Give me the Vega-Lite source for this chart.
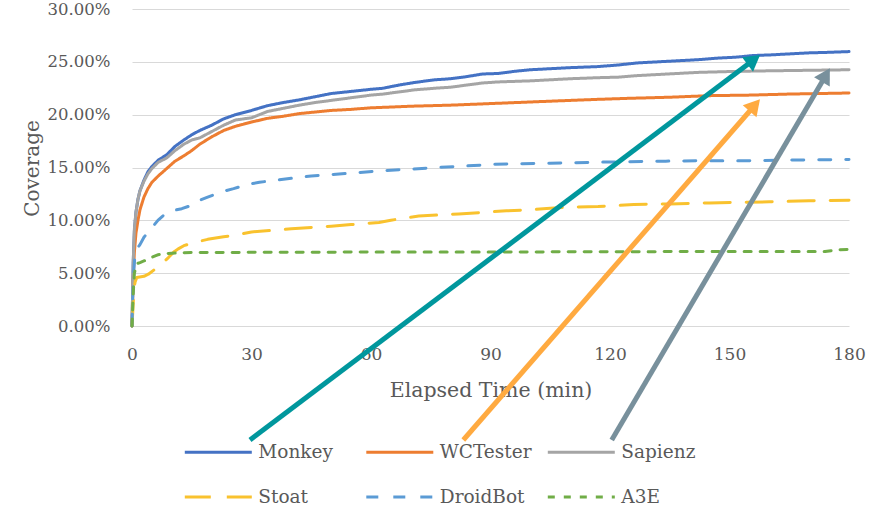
{
  "$schema": "https://vega.github.io/schema/vega-lite/v6.json",
  "width": 717,
  "height": 317,
  "autosize": {"type": "none"},
  "padding": {"left": 132, "top": 9, "right": 28, "bottom": 182},
  "background": "white",
  "datasets": {
    "lines": [
      {"tool":"Monkey","t":0,"cov":0},{"tool":"Monkey","t":0.3,"cov":0.06},{"tool":"Monkey","t":0.6,"cov":0.09},{"tool":"Monkey","t":1,"cov":0.108},{"tool":"Monkey","t":1.5,"cov":0.12},{"tool":"Monkey","t":2,"cov":0.128},{"tool":"Monkey","t":3,"cov":0.138},{"tool":"Monkey","t":4,"cov":0.146},{"tool":"Monkey","t":5,"cov":0.151},{"tool":"Monkey","t":6.6,"cov":0.157},{"tool":"Monkey","t":8.7,"cov":0.162},{"tool":"Monkey","t":10.8,"cov":0.17},{"tool":"Monkey","t":13,"cov":0.176},{"tool":"Monkey","t":15,"cov":0.181},{"tool":"Monkey","t":17,"cov":0.185},{"tool":"Monkey","t":20,"cov":0.19},{"tool":"Monkey","t":23,"cov":0.196},{"tool":"Monkey","t":26,"cov":0.2},{"tool":"Monkey","t":30,"cov":0.204},{"tool":"Monkey","t":34,"cov":0.2085},{"tool":"Monkey","t":38,"cov":0.2115},{"tool":"Monkey","t":42,"cov":0.214},{"tool":"Monkey","t":46,"cov":0.217},{"tool":"Monkey","t":50,"cov":0.22},{"tool":"Monkey","t":55,"cov":0.222},{"tool":"Monkey","t":60,"cov":0.224},{"tool":"Monkey","t":63,"cov":0.225},{"tool":"Monkey","t":67,"cov":0.228},{"tool":"Monkey","t":71,"cov":0.2305},{"tool":"Monkey","t":76,"cov":0.233},{"tool":"Monkey","t":80,"cov":0.234},{"tool":"Monkey","t":84,"cov":0.236},{"tool":"Monkey","t":88,"cov":0.2385},{"tool":"Monkey","t":92,"cov":0.239},{"tool":"Monkey","t":96,"cov":0.241},{"tool":"Monkey","t":100,"cov":0.2425},{"tool":"Monkey","t":105,"cov":0.2435},{"tool":"Monkey","t":110,"cov":0.2445},{"tool":"Monkey","t":117,"cov":0.2455},{"tool":"Monkey","t":122,"cov":0.247},{"tool":"Monkey","t":127,"cov":0.249},{"tool":"Monkey","t":132,"cov":0.25},{"tool":"Monkey","t":137,"cov":0.251},{"tool":"Monkey","t":142,"cov":0.252},{"tool":"Monkey","t":147,"cov":0.2535},{"tool":"Monkey","t":152,"cov":0.2545},{"tool":"Monkey","t":156,"cov":0.256},{"tool":"Monkey","t":160,"cov":0.2565},{"tool":"Monkey","t":165,"cov":0.2575},{"tool":"Monkey","t":170,"cov":0.2585},{"tool":"Monkey","t":175,"cov":0.259},{"tool":"Monkey","t":180,"cov":0.2597},
      {"tool":"WCTester","t":0,"cov":0},{"tool":"WCTester","t":0.3,"cov":0.045},{"tool":"WCTester","t":0.6,"cov":0.07},{"tool":"WCTester","t":1,"cov":0.088},{"tool":"WCTester","t":1.5,"cov":0.1},{"tool":"WCTester","t":2,"cov":0.11},{"tool":"WCTester","t":3,"cov":0.122},{"tool":"WCTester","t":4,"cov":0.13},{"tool":"WCTester","t":5,"cov":0.136},{"tool":"WCTester","t":6.6,"cov":0.142},{"tool":"WCTester","t":8.7,"cov":0.149},{"tool":"WCTester","t":10.8,"cov":0.156},{"tool":"WCTester","t":13,"cov":0.161},{"tool":"WCTester","t":15,"cov":0.166},{"tool":"WCTester","t":17,"cov":0.172},{"tool":"WCTester","t":20,"cov":0.179},{"tool":"WCTester","t":23,"cov":0.185},{"tool":"WCTester","t":26,"cov":0.189},{"tool":"WCTester","t":30,"cov":0.193},{"tool":"WCTester","t":34,"cov":0.1965},{"tool":"WCTester","t":38,"cov":0.1985},{"tool":"WCTester","t":42,"cov":0.201},{"tool":"WCTester","t":46,"cov":0.2025},{"tool":"WCTester","t":50,"cov":0.204},{"tool":"WCTester","t":55,"cov":0.205},{"tool":"WCTester","t":60,"cov":0.2065},{"tool":"WCTester","t":65,"cov":0.2072},{"tool":"WCTester","t":70,"cov":0.208},{"tool":"WCTester","t":80,"cov":0.209},{"tool":"WCTester","t":90,"cov":0.2105},{"tool":"WCTester","t":100,"cov":0.212},{"tool":"WCTester","t":110,"cov":0.2135},{"tool":"WCTester","t":117,"cov":0.2145},{"tool":"WCTester","t":125,"cov":0.2155},{"tool":"WCTester","t":135,"cov":0.2165},{"tool":"WCTester","t":145,"cov":0.218},{"tool":"WCTester","t":155,"cov":0.2185},{"tool":"WCTester","t":165,"cov":0.2195},{"tool":"WCTester","t":180,"cov":0.2205},
      {"tool":"Sapienz","t":0,"cov":0},{"tool":"Sapienz","t":0.3,"cov":0.06},{"tool":"Sapienz","t":0.6,"cov":0.092},{"tool":"Sapienz","t":1,"cov":0.108},{"tool":"Sapienz","t":1.5,"cov":0.12},{"tool":"Sapienz","t":2,"cov":0.128},{"tool":"Sapienz","t":3,"cov":0.137},{"tool":"Sapienz","t":4,"cov":0.144},{"tool":"Sapienz","t":5,"cov":0.149},{"tool":"Sapienz","t":6.6,"cov":0.155},{"tool":"Sapienz","t":8.7,"cov":0.159},{"tool":"Sapienz","t":10.8,"cov":0.166},{"tool":"Sapienz","t":13,"cov":0.172},{"tool":"Sapienz","t":15,"cov":0.176},{"tool":"Sapienz","t":17,"cov":0.178},{"tool":"Sapienz","t":20,"cov":0.184},{"tool":"Sapienz","t":23,"cov":0.19},{"tool":"Sapienz","t":26,"cov":0.195},{"tool":"Sapienz","t":30,"cov":0.197},{"tool":"Sapienz","t":34,"cov":0.203},{"tool":"Sapienz","t":38,"cov":0.206},{"tool":"Sapienz","t":42,"cov":0.209},{"tool":"Sapienz","t":46,"cov":0.2115},{"tool":"Sapienz","t":50,"cov":0.2135},{"tool":"Sapienz","t":55,"cov":0.216},{"tool":"Sapienz","t":60,"cov":0.2185},{"tool":"Sapienz","t":63,"cov":0.2195},{"tool":"Sapienz","t":67,"cov":0.2215},{"tool":"Sapienz","t":71,"cov":0.2235},{"tool":"Sapienz","t":76,"cov":0.225},{"tool":"Sapienz","t":80,"cov":0.226},{"tool":"Sapienz","t":84,"cov":0.228},{"tool":"Sapienz","t":88,"cov":0.23},{"tool":"Sapienz","t":92,"cov":0.231},{"tool":"Sapienz","t":96,"cov":0.2315},{"tool":"Sapienz","t":100,"cov":0.232},{"tool":"Sapienz","t":105,"cov":0.233},{"tool":"Sapienz","t":110,"cov":0.234},{"tool":"Sapienz","t":117,"cov":0.235},{"tool":"Sapienz","t":122,"cov":0.2355},{"tool":"Sapienz","t":127,"cov":0.237},{"tool":"Sapienz","t":132,"cov":0.238},{"tool":"Sapienz","t":137,"cov":0.239},{"tool":"Sapienz","t":142,"cov":0.24},{"tool":"Sapienz","t":147,"cov":0.2405},{"tool":"Sapienz","t":152,"cov":0.241},{"tool":"Sapienz","t":160,"cov":0.2415},{"tool":"Sapienz","t":170,"cov":0.242},{"tool":"Sapienz","t":180,"cov":0.2425},
      {"tool":"Stoat","t":0,"cov":0},{"tool":"Stoat","t":0.5,"cov":0.035},{"tool":"Stoat","t":0.8,"cov":0.042},{"tool":"Stoat","t":1.2,"cov":0.046},{"tool":"Stoat","t":3,"cov":0.047},{"tool":"Stoat","t":4.1,"cov":0.049},{"tool":"Stoat","t":5.5,"cov":0.053},{"tool":"Stoat","t":6.3,"cov":0.055},{"tool":"Stoat","t":7.5,"cov":0.059},{"tool":"Stoat","t":9.2,"cov":0.065},{"tool":"Stoat","t":10.5,"cov":0.07},{"tool":"Stoat","t":11.6,"cov":0.073},{"tool":"Stoat","t":13,"cov":0.076},{"tool":"Stoat","t":15,"cov":0.0785},{"tool":"Stoat","t":19,"cov":0.082},{"tool":"Stoat","t":23,"cov":0.0845},{"tool":"Stoat","t":26,"cov":0.086},{"tool":"Stoat","t":30,"cov":0.089},{"tool":"Stoat","t":35,"cov":0.0905},{"tool":"Stoat","t":40,"cov":0.092},{"tool":"Stoat","t":44,"cov":0.093},{"tool":"Stoat","t":50,"cov":0.0945},{"tool":"Stoat","t":55,"cov":0.096},{"tool":"Stoat","t":62,"cov":0.098},{"tool":"Stoat","t":65,"cov":0.1},{"tool":"Stoat","t":68,"cov":0.102},{"tool":"Stoat","t":72,"cov":0.104},{"tool":"Stoat","t":76.5,"cov":0.105},{"tool":"Stoat","t":82,"cov":0.106},{"tool":"Stoat","t":88,"cov":0.1075},{"tool":"Stoat","t":94,"cov":0.109},{"tool":"Stoat","t":100,"cov":0.11},{"tool":"Stoat","t":105,"cov":0.1115},{"tool":"Stoat","t":110,"cov":0.1125},{"tool":"Stoat","t":117,"cov":0.113},{"tool":"Stoat","t":126,"cov":0.115},{"tool":"Stoat","t":135,"cov":0.1155},{"tool":"Stoat","t":145,"cov":0.1165},{"tool":"Stoat","t":151,"cov":0.117},{"tool":"Stoat","t":160,"cov":0.1175},{"tool":"Stoat","t":170,"cov":0.1185},{"tool":"Stoat","t":180,"cov":0.119},
      {"tool":"DroidBot","t":0,"cov":0},{"tool":"DroidBot","t":0.2,"cov":0.03},{"tool":"DroidBot","t":0.4,"cov":0.05},{"tool":"DroidBot","t":0.7,"cov":0.065},{"tool":"DroidBot","t":1,"cov":0.072},{"tool":"DroidBot","t":2,"cov":0.077},{"tool":"DroidBot","t":3,"cov":0.084},{"tool":"DroidBot","t":5,"cov":0.093},{"tool":"DroidBot","t":6.5,"cov":0.1},{"tool":"DroidBot","t":8,"cov":0.105},{"tool":"DroidBot","t":10,"cov":0.109},{"tool":"DroidBot","t":12.5,"cov":0.111},{"tool":"DroidBot","t":15.5,"cov":0.115},{"tool":"DroidBot","t":17,"cov":0.119},{"tool":"DroidBot","t":19,"cov":0.122},{"tool":"DroidBot","t":22.5,"cov":0.127},{"tool":"DroidBot","t":25.5,"cov":0.13},{"tool":"DroidBot","t":29,"cov":0.134},{"tool":"DroidBot","t":32,"cov":0.136},{"tool":"DroidBot","t":36,"cov":0.138},{"tool":"DroidBot","t":40.5,"cov":0.14},{"tool":"DroidBot","t":45,"cov":0.142},{"tool":"DroidBot","t":49,"cov":0.143},{"tool":"DroidBot","t":56,"cov":0.145},{"tool":"DroidBot","t":63,"cov":0.147},{"tool":"DroidBot","t":70,"cov":0.1485},{"tool":"DroidBot","t":76.5,"cov":0.15},{"tool":"DroidBot","t":84,"cov":0.1515},{"tool":"DroidBot","t":90.7,"cov":0.153},{"tool":"DroidBot","t":98,"cov":0.1535},{"tool":"DroidBot","t":105,"cov":0.154},{"tool":"DroidBot","t":116.6,"cov":0.155},{"tool":"DroidBot","t":125,"cov":0.1555},{"tool":"DroidBot","t":134,"cov":0.156},{"tool":"DroidBot","t":145,"cov":0.1565},{"tool":"DroidBot","t":155,"cov":0.1565},{"tool":"DroidBot","t":165,"cov":0.157},{"tool":"DroidBot","t":180,"cov":0.1575},
      {"tool":"A3E","t":0,"cov":0},{"tool":"A3E","t":0.3,"cov":0.03},{"tool":"A3E","t":0.6,"cov":0.05},{"tool":"A3E","t":1.2,"cov":0.059},{"tool":"A3E","t":2,"cov":0.06},{"tool":"A3E","t":3.3,"cov":0.062},{"tool":"A3E","t":5,"cov":0.065},{"tool":"A3E","t":6.6,"cov":0.0675},{"tool":"A3E","t":8,"cov":0.0685},{"tool":"A3E","t":10.8,"cov":0.069},{"tool":"A3E","t":15,"cov":0.0695},{"tool":"A3E","t":30,"cov":0.0697},{"tool":"A3E","t":60,"cov":0.07},{"tool":"A3E","t":90,"cov":0.07},{"tool":"A3E","t":120,"cov":0.0703},{"tool":"A3E","t":150,"cov":0.0705},{"tool":"A3E","t":174,"cov":0.0705},{"tool":"A3E","t":177,"cov":0.072},{"tool":"A3E","t":180,"cov":0.0725}
    ],
    "arrows": [
      {"target":"Monkey","t":29.62,"cov":-0.1079,"t2":156.1,"cov2":0.2519},
      {"target":"WCTester","t":83.17,"cov":-0.1079,"t2":156.35,"cov2":0.2089},
      {"target":"Sapienz","t":120.43,"cov":-0.1079,"t2":174.2,"cov2":0.2374}
    ]
  },
  "layer": [
    {
      "data": {"name": "lines"},
      "mark": {"type": "line", "strokeWidth": 3, "strokeCap": "round", "strokeJoin": "round"},
      "encoding": {
        "x": {"field": "t", "type": "quantitative", "title": "Elapsed Time (min)",
              "scale": {"domain": [0, 180], "nice": false, "zero": false},
              "axis": {"values": [0, 30, 60, 90, 120, 150, 180], "domain": false, "ticks": false, "tickSize": 0, "grid": false,
                       "labelFlush": false, "labelFontSize": 17, "labelColor": "#595959", "labelPadding": 20,
                       "titleFontSize": 20.5, "titleColor": "#595959", "titleFontWeight": "normal",
                       "titleY": 70.6, "titleBaseline": "alphabetic"}},
        "y": {"field": "cov", "type": "quantitative", "title": "Coverage",
              "scale": {"domain": [0, 0.3], "nice": false},
              "axis": {"values": [0, 0.05, 0.1, 0.15, 0.2, 0.25, 0.3], "format": ".2%", "domain": false, "ticks": false, "tickSize": 0,
                       "grid": true, "gridColor": "#D9D9D9", "gridWidth": 1,
                       "labelFontSize": 16.5, "labelColor": "#595959", "labelPadding": 22,
                       "titleFontSize": 20, "titleColor": "#595959", "titleFontWeight": "normal",
                       "titleX": -94, "titleY": 159, "titleAngle": 270, "titleBaseline": "alphabetic", "titleAlign": "center"}},
        "color": {"field": "tool", "type": "nominal",
                  "scale": {"domain": ["Monkey", "WCTester", "Sapienz", "Stoat", "DroidBot", "A3E"],
                            "range": ["#4472C4", "#ED7D31", "#A5A5A5", "#F9C22E", "#5B9BD5", "#70AD47"]},
                  "legend": {"title": null, "orient": "none", "direction": "horizontal", "legendX": 51.3, "legendY": 408, "columns": 3, "gridAlign": "all",
                             "columnPadding": 9.5, "rowPadding": -33, "symbolType": "stroke", "symbolSize": 4489, "symbolStrokeWidth": 3,
                             "labelFontSize": 18.5, "labelColor": "#595959", "labelOffset": 5, "padding": 0}},
        "strokeDash": {"field": "tool", "type": "nominal",
                       "scale": {"domain": ["Monkey", "WCTester", "Sapienz", "Stoat", "DroidBot", "A3E"],
                                 "range": [[1, 0], [1, 0], [1, 0], [26, 16], [12, 15], [7, 9]]},
                       "legend": {"title": null, "orient": "none", "direction": "horizontal", "legendX": 51.3, "legendY": 408, "columns": 3, "gridAlign": "all",
                             "columnPadding": 9.5, "rowPadding": -33, "symbolType": "stroke", "symbolSize": 4489, "symbolStrokeWidth": 3,
                             "labelFontSize": 18.5, "labelColor": "#595959", "labelOffset": 5, "padding": 0}}
      }
    },
    {
      "data": {"name": "arrows"},
      "mark": {"type": "rule", "strokeWidth": 5, "strokeCap": "butt"},
      "encoding": {
        "x": {"field": "t", "type": "quantitative", "title": "Elapsed Time (min)"},
        "y": {"field": "cov", "type": "quantitative", "title": "Coverage"},
        "x2": {"field": "t2"},
        "y2": {"field": "cov2"},
        "stroke": {"field": "target", "type": "nominal",
                   "scale": {"domain": ["Monkey", "WCTester", "Sapienz"], "range": ["#00979D", "#FFAA40", "#78909C"]},
                   "legend": null}
      }
    },
    {
      "data": {"name": "arrows"},
      "transform": [{"filter": "datum.target === 'Monkey'"}],
      "mark": {"type": "point", "shape": "triangle-up", "filled": true, "size": 330, "angle": 52.95, "opacity": 1, "fill": "#00979D", "strokeWidth": 0},
      "encoding": {
        "x": {"field": "t2", "type": "quantitative", "title": "Elapsed Time (min)"},
        "y": {"field": "cov2", "type": "quantitative", "title": "Coverage"}
      }
    },
    {
      "data": {"name": "arrows"},
      "transform": [{"filter": "datum.target === 'WCTester'"}],
      "mark": {"type": "point", "shape": "triangle-up", "filled": true, "size": 330, "angle": 41.05, "opacity": 1, "fill": "#FFAA40", "strokeWidth": 0},
      "encoding": {
        "x": {"field": "t2", "type": "quantitative", "title": "Elapsed Time (min)"},
        "y": {"field": "cov2", "type": "quantitative", "title": "Coverage"}
      }
    },
    {
      "data": {"name": "arrows"},
      "transform": [{"filter": "datum.target === 'Sapienz'"}],
      "mark": {"type": "point", "shape": "triangle-up", "filled": true, "size": 330, "angle": 30.43, "opacity": 1, "fill": "#78909C", "strokeWidth": 0},
      "encoding": {
        "x": {"field": "t2", "type": "quantitative", "title": "Elapsed Time (min)"},
        "y": {"field": "cov2", "type": "quantitative", "title": "Coverage"}
      }
    }
  ],
  "config": {
    "view": {"stroke": null},
    "font": "DejaVu Serif",
    "axis": {"labelFont": "DejaVu Serif", "titleFont": "DejaVu Serif"},
    "legend": {"labelFont": "DejaVu Serif"}
  }
}
